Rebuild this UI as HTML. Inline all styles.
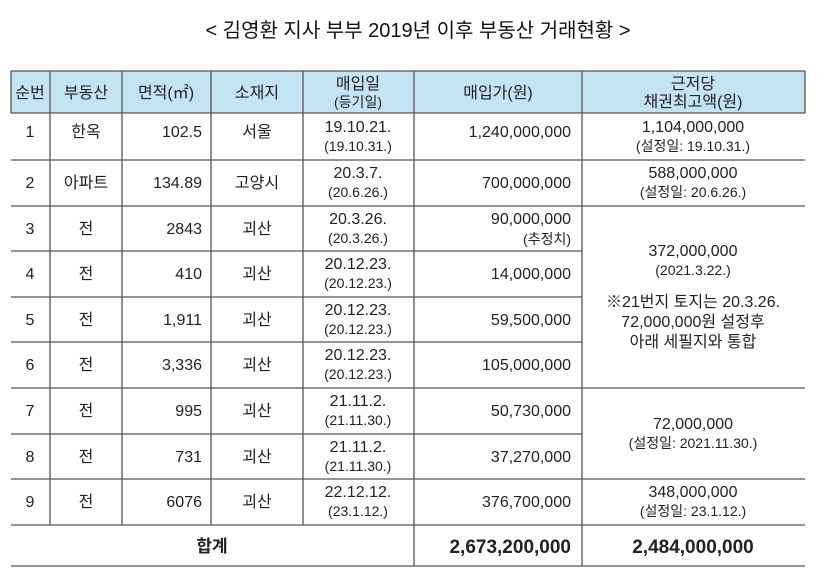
<!DOCTYPE html>
<html><head><meta charset="utf-8"><style>
body{margin:0;background:#fff;}
svg{display:block;font-family:"Liberation Sans","Noto Sans CJK KR",sans-serif;}
</style></head><body>
<svg width="837" height="581" viewBox="0 0 837 581" xmlns="http://www.w3.org/2000/svg">
<rect width="837" height="581" fill="#fff"/>
<text x="418" y="37" font-size="20" text-anchor="middle" fill="#111">&lt; 김영환 지사 부부 2019년 이후 부동산 거래현황 &gt;</text>
<rect x="11" y="71" width="794" height="42" fill="#c4e3f3"/>
<g stroke="#5a5550" stroke-width="1.3">
<line x1="11" y1="71" x2="805" y2="71"/>
<line x1="11" y1="113" x2="805" y2="113"/>
<line x1="11" y1="160" x2="805" y2="160"/>
<line x1="11" y1="206" x2="805" y2="206"/>
<line x1="11" y1="251" x2="582" y2="251"/>
<line x1="11" y1="297" x2="582" y2="297"/>
<line x1="11" y1="342" x2="582" y2="342"/>
<line x1="11" y1="388" x2="805" y2="388"/>
<line x1="11" y1="434" x2="582" y2="434"/>
<line x1="11" y1="479" x2="805" y2="479"/>
<line x1="11" y1="525" x2="805" y2="525"/>
<line x1="11" y1="566" x2="805" y2="566"/>
<line x1="11" y1="71" x2="11" y2="113"/>
<line x1="805" y1="71" x2="805" y2="113"/>
<line x1="50" y1="71" x2="50" y2="525"/>
<line x1="122" y1="71" x2="122" y2="525"/>
<line x1="211" y1="71" x2="211" y2="525"/>
<line x1="303" y1="71" x2="303" y2="525"/>
<line x1="414" y1="71" x2="414" y2="566"/>
<line x1="582" y1="71" x2="582" y2="566"/>
</g>
<g font-size="16" fill="#222" text-anchor="middle">
<text x="30" y="98">순번</text><text x="86" y="98">부동산</text><text x="166" y="98">면적(㎡)</text><text x="257" y="98">소재지</text>
<text x="358" y="89">매입일</text><text x="358" y="107" font-size="14">(등기일)</text>
<text x="498" y="98">매입가(원)</text>
<text x="693" y="89">근저당</text><text x="693" y="107">채권최고액(원)</text>
</g>
<g font-size="16" fill="#222">
<g text-anchor="middle">
<text x="30" y="137">1</text><text x="30" y="188">2</text><text x="30" y="234">3</text><text x="30" y="279">4</text><text x="30" y="325">5</text><text x="30" y="370">6</text><text x="30" y="416">7</text><text x="30" y="462">8</text><text x="30" y="507">9</text>
<text x="86" y="137">한옥</text><text x="86" y="188">아파트</text><text x="86" y="234">전</text><text x="86" y="279">전</text><text x="86" y="325">전</text><text x="86" y="370">전</text><text x="86" y="416">전</text><text x="86" y="462">전</text><text x="86" y="507">전</text>
<text x="257" y="137">서울</text><text x="257" y="188">고양시</text><text x="257" y="234">괴산</text><text x="257" y="279">괴산</text><text x="257" y="325">괴산</text><text x="257" y="370">괴산</text><text x="257" y="416">괴산</text><text x="257" y="462">괴산</text><text x="257" y="507">괴산</text>
<text x="358" y="132">19.10.21.</text><text x="358" y="151" font-size="14">(19.10.31.)</text>
<text x="358" y="178">20.3.7.</text><text x="358" y="197" font-size="14">(20.6.26.)</text>
<text x="358" y="224">20.3.26.</text><text x="358" y="243" font-size="14">(20.3.26.)</text>
<text x="358" y="269">20.12.23.</text><text x="358" y="288" font-size="14">(20.12.23.)</text>
<text x="358" y="315">20.12.23.</text><text x="358" y="334" font-size="14">(20.12.23.)</text>
<text x="358" y="360">20.12.23.</text><text x="358" y="379" font-size="14">(20.12.23.)</text>
<text x="358" y="406">21.11.2.</text><text x="358" y="425" font-size="14">(21.11.30.)</text>
<text x="358" y="452">21.11.2.</text><text x="358" y="471" font-size="14">(21.11.30.)</text>
<text x="358" y="497">22.12.12.</text><text x="358" y="516" font-size="14">(23.1.12.)</text>
<text x="693" y="132">1,104,000,000</text><text x="693" y="151" font-size="14">(설정일: 19.10.31.)</text>
<text x="693" y="178">588,000,000</text><text x="693" y="197" font-size="14">(설정일: 20.6.26.)</text>
<text x="693" y="256">372,000,000</text><text x="693" y="275" font-size="14">(2021.3.22.)</text>
<text x="693" y="307">※21번지 토지는 20.3.26.</text>
<text x="693" y="327">72,000,000원 설정후</text>
<text x="693" y="347">아래 세필지와 통합</text>
<text x="693" y="429">72,000,000</text><text x="693" y="448" font-size="14">(설정일: 2021.11.30.)</text>
<text x="693" y="497">348,000,000</text><text x="693" y="516" font-size="14">(설정일: 23.1.12.)</text>
<text x="212" y="552" font-weight="bold" font-size="17">합계</text>
<text x="693" y="553" font-weight="bold" font-size="19">2,484,000,000</text>
</g>
<g text-anchor="end">
<text x="202" y="137">102.5</text><text x="202" y="188">134.89</text><text x="202" y="234">2843</text><text x="202" y="279">410</text><text x="202" y="325">1,911</text><text x="202" y="370">3,336</text><text x="202" y="416">995</text><text x="202" y="462">731</text><text x="202" y="507">6076</text>
<text x="571" y="137">1,240,000,000</text><text x="571" y="188">700,000,000</text>
<text x="571" y="224">90,000,000</text><text x="571" y="244" font-size="14">(추정치)</text>
<text x="571" y="279">14,000,000</text><text x="571" y="325">59,500,000</text><text x="571" y="370">105,000,000</text>
<text x="571" y="416">50,730,000</text><text x="571" y="462">37,270,000</text><text x="571" y="507">376,700,000</text>
<text x="571" y="553" font-weight="bold" font-size="19">2,673,200,000</text>
</g>
</g>
</svg>
</body></html>
